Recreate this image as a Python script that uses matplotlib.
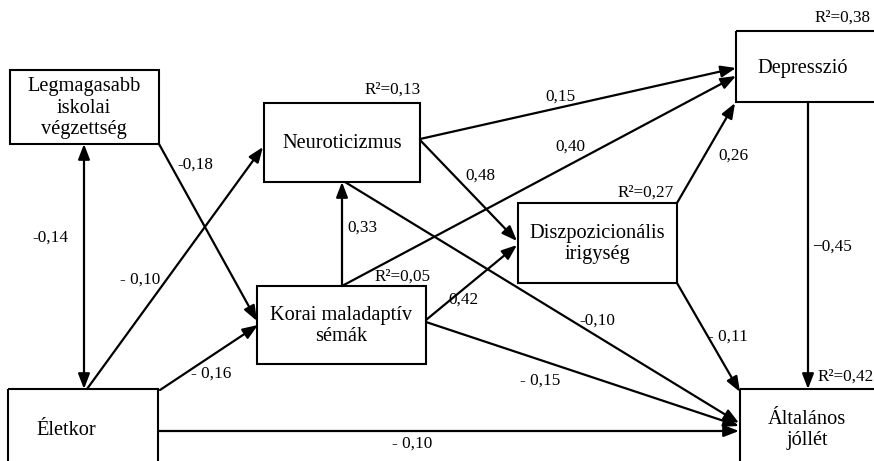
import matplotlib
matplotlib.use("Agg")
import matplotlib.pyplot as plt
from matplotlib.patches import Rectangle

plt.rcParams['font.family'] = ['Liberation Serif', 'DejaVu Serif']

# változók és magyarázott variancia
valtozok = ["Legmagasabb\niskolai\nvégzettség", "Életkor", "Neuroticizmus",
            "Korai maladaptív\nsémák", "Diszpozicionális\nirigység",
            "Depresszió", "Általános\njóllét"]
r2_ertekek = [None, None, "0,13", "0,05", "0,27", "0,38", "0,42"]

# utak: honnan -> hova, együttható
ut_honnan = [0, 0, 1, 1, 1, 3, 3, 2, 2, 2, 3, 3, 4, 4, 5]
ut_hova = [1, 3, 2, 3, 6, 2, 5, 5, 4, 6, 4, 6, 5, 6, 6]
egyutthatok = ["-0,14", "-0,18", "- 0,10", "- 0,16", "- 0,10", "0,33", "0,40",
               "0,15", "0,48", "-0,10", "0,42", "- 0,15", "0,26", "- 0,11", "\u22120,45"]
ketiranyu = [True] + [False] * 14

# elrendezés (pixel koordináták, y lefelé)
dobozok = [(10, 70, 149, 74), (8, 389, 150, 80), (264, 103, 156, 79),
           (257, 286, 169, 78), (518, 203, 159, 80), (736, 31, 145, 71),
           (740, 389, 140, 80)]
szoveg_hely = [(84, 108), (66, 430), (342, 143), (341, 326), (597, 244),
               (803, 68), (807, 430)]
r2_hely = [None, None, (421, 90), (431, 277), (674, 193), (871, 18), (874, 377)]
ut_kezdet = [(84, 144), (159, 144), (87, 389), (160, 390), (158, 431),
             (342, 286), (342, 286), (420, 139), (420, 140), (345, 182),
             (426, 320), (426, 322), (677, 203), (677, 283), (808, 102)]
ut_veg = [(84, 389), (257, 321), (263, 147), (258, 325), (739, 431),
          (342, 182), (736, 76), (736, 68), (517, 241), (739, 423),
          (517, 245), (739, 426), (735, 103), (740, 392), (808, 389)]
cimke_hely = [(50, 238), (195, 165), (140, 280), (211, 374), (412, 444),
              (362, 228), (570, 147), (560, 97), (480, 176), (597, 321),
              (463, 300), (540, 381), (733, 156), (728, 337), (832, 247)]

fig = plt.figure(figsize=(8.74, 4.61), dpi=100)
ax = fig.add_axes([0, 0, 1, 1])
ax.set_xlim(0, 874)
ax.set_ylim(461, 0)
ax.axis("off")

for i, nev in enumerate(valtozok):
    x, y, w, h = dobozok[i]
    ax.add_patch(Rectangle((x, y), w, h, fill=False, edgecolor="black", lw=1.5))
    ax.text(szoveg_hely[i][0], szoveg_hely[i][1], nev, ha="center", va="center",
            fontsize=14.7, linespacing=1.15)
    if r2_ertekek[i] is not None:
        ax.text(r2_hely[i][0], r2_hely[i][1], "R\u00b2=" + r2_ertekek[i],
                ha="right", va="center", fontsize=12.3)

for k in range(len(egyutthatok)):
    stilus = "<|-|>" if ketiranyu[k] else "-|>"
    ax.annotate("", xy=ut_veg[k], xytext=ut_kezdet[k],
                arrowprops=dict(arrowstyle=stilus + ",head_length=0.65,head_width=0.25",
                                color="black", lw=1.6, shrinkA=0, shrinkB=0,
                                mutation_scale=14))
    ax.text(cimke_hely[k][0], cimke_hely[k][1], egyutthatok[k],
            ha="center", va="center", fontsize=12.4)

fig.savefig("out.png", dpi=100)
